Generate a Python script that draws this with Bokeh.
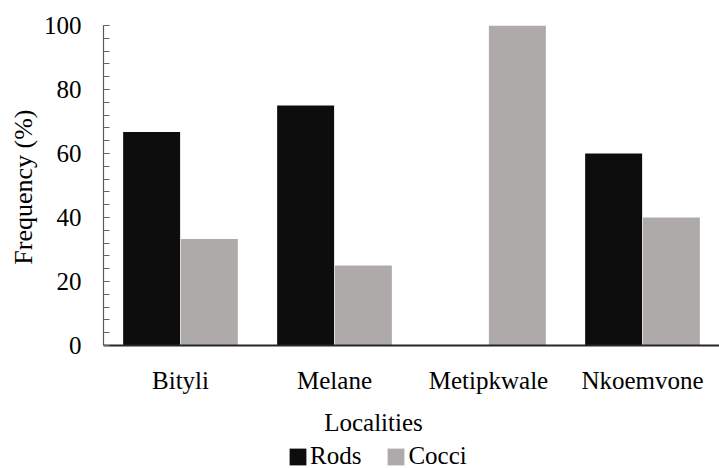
from bokeh.plotting import figure
from bokeh.models import (ColumnDataSource, FactorRange, Range1d, Legend, LegendItem,
                          Title, Label, SingleIntervalTicker)
from bokeh.transform import dodge
from bokeh.embed import file_html
from bokeh.resources import INLINE

localities = ["Bityli", "Melane", "Metipkwale", "Nkoemvone"]
rods = [66.7, 75, 0, 60]
cocci = [33.3, 25, 100, 40]
series_names = ["Rods", "Cocci"]
y_label = "Frequency (%)"
x_label = "Localities"

FONT = "Liberation Serif"
src = ColumnDataSource(dict(loc=localities, rods=rods, cocci=cocci))

# frame spans to the bottom of the canvas; value 0 sits 123px above it
p = figure(x_range=FactorRange(*localities, range_padding=0), y_range=Range1d(-38.4375, 100),
           width=719, height=468, output_backend="svg", toolbar_location=None,
           min_border_left=103, min_border_right=0, min_border_top=25, min_border_bottom=0,
           background_fill_color="white", border_fill_color="white")
p.outline_line_color = None
p.xgrid.visible = False
p.ygrid.visible = False

r1 = p.vbar(x=dodge("loc", -0.1875, range=p.x_range), top="rods", width=0.37,
            source=src, fill_color="#0d0d0d", line_color=None)
r2 = p.vbar(x=dodge("loc", 0.1875, range=p.x_range), top="cocci", width=0.37,
            source=src, fill_color="#aeaaaa", line_color=None)

# y axis
ya = p.yaxis[0]
ya.bounds = (0, 100)
ya.ticker = SingleIntervalTicker(interval=20, num_minor_ticks=5)
ya.axis_line_color = "#595959"
ya.axis_line_width = 1.2
ya.major_tick_in = 6
ya.major_tick_out = 0
ya.minor_tick_in = 6
ya.minor_tick_out = 0
ya.major_tick_line_color = "#666666"
ya.minor_tick_line_color = "#666666"
ya.major_label_text_font = FONT
ya.major_label_text_font_size = "25px"
ya.major_label_text_color = "black"
ya.major_label_standoff = 22

yt = Title(text=y_label, align="right", offset=84, text_font=FONT, text_font_size="26px",
           text_font_style="normal", text_color="black", standoff=5)
p.add_layout(yt, "left")

# x axis at value 0
xa = p.xaxis[0]
xa.fixed_location = 0
xa.axis_line_color = "#262626"
xa.axis_line_width = 1.8
xa.major_tick_line_color = None
xa.minor_tick_line_color = None
xa.major_label_text_font = FONT
xa.major_label_text_font_size = "25px"
xa.major_label_text_color = "black"
xa.major_label_standoff = 15

lab = Label(x=270, y=46, x_units="screen", y_units="screen", text=x_label,
            text_font=FONT, text_font_size="25px", text_align="center",
            text_baseline="alphabetic", text_color="black")
p.add_layout(lab)

legend = Legend(items=[LegendItem(label=series_names[0], renderers=[r1]),
                       LegendItem(label=series_names[1], renderers=[r2])],
                orientation="horizontal", location=(184, -2),
                glyph_width=21, glyph_height=21, label_standoff=2, spacing=24,
                padding=0, margin=0, border_line_color=None, background_fill_alpha=0,
                label_text_font=FONT, label_text_font_size="25px", label_text_color="black",
                label_height=21)
p.add_layout(legend)

open("out.html", "w").write(file_html(p, INLINE))
